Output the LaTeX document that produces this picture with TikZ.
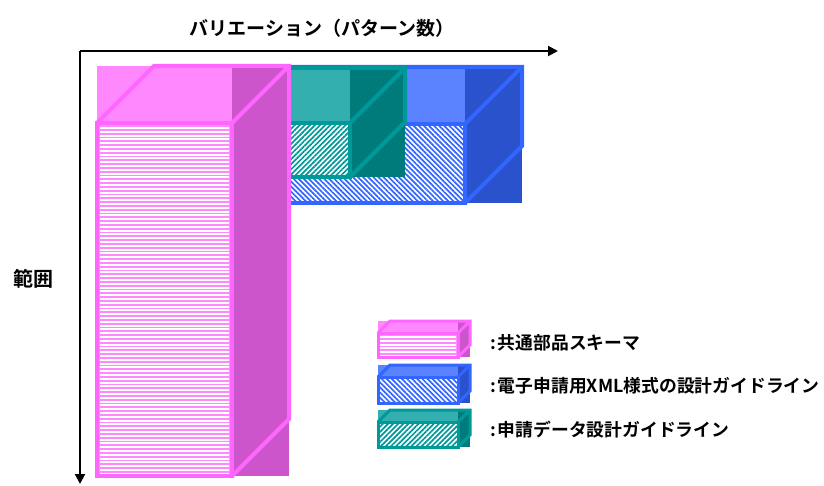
\documentclass[tikz,border=0pt]{standalone}
\usepackage{fontspec}
\setmainfont{Noto Sans CJK JP}[BoldFont={Noto Sans CJK JP Bold}]
\usetikzlibrary{patterns.meta,arrows.meta}
\definecolor{pkline}{HTML}{FF66FF}
\definecolor{pklight}{HTML}{FF88FF}
\definecolor{pkdark}{HTML}{CC55CC}
\definecolor{tlline}{HTML}{009999}
\definecolor{tllight}{HTML}{33AFAF}
\definecolor{tldark}{HTML}{007B7B}
\definecolor{blline}{HTML}{3366FF}
\definecolor{bllight}{HTML}{5B82FF}
\definecolor{bldark}{HTML}{2A52CC}
\tikzset{
  pkfront/.style={fill=pklight},
  blfront/.style={fill=white,postaction={pattern={Lines[angle=-45,distance=3.6pt,line width=1.7pt]},pattern color=blline}},
  tlfront/.style={fill=white,postaction={pattern={Lines[angle=45,distance=3.6pt,line width=1.7pt]},pattern color=tlline}},
  pkstripe/.style={white,line width=1.9pt},
  axis/.style={line width=2pt,-{Triangle[length=10pt,width=10pt]}},
  lbl/.style={font=\bfseries\fontsize{19}{21}\selectfont,inner sep=0pt},
  leg/.style={font=\bfseries\fontsize{17.8}{20}\selectfont,inner sep=0pt,anchor=west},
}
\newcommand{\cubebox}[7]{%
  \fill[#1light] (#2,{#3-#6}) rectangle (#4,#3);
  \fill[#1dark] (#4,{#3-#6}) rectangle ({#4+#6},#5);
  \path[#1front] (#2,#3) rectangle (#4,#5);
  \draw[#1line,line width=#7] (#2,#3) rectangle (#4,#5);
  \draw[#1line,line width=#7,line join=miter] (#2,#3) -- ({#2+#6},{#3-#6}) -- ({#4+#6},{#3-#6}) -- ({#4+#6},{#5-#6}) -- (#4,#5);
  \draw[#1line,line width=#7] (#4,#3) -- ({#4+#6},{#3-#6});
}
\newcommand{\pkstripes}[5]{%
  \begin{scope}
    \clip ({#1+#5},{#2+#5}) rectangle ({#3-#5},{#4-#5});
    \foreach \yy in {#2,#2.8,...,#4} {
      \draw[pkstripe] (#1,{\yy+3.8}) -- (#3,{\yy+3.8});
    }
  \end{scope}
}
\begin{document}
\begin{tikzpicture}[x=1pt,y=-1pt]
\useasboundingbox (0,0) rectangle (824,486);
\coordinate (O) at (80,51);
\coordinate (X) at (558,51);
\coordinate (Y) at (80,484);
\draw[axis] (O) -- (X);
\draw[axis] (O) -- (Y);
\node[lbl] (title) at (322,28) {バリエーション（パターン数）};
\node[lbl,font=\bfseries\fontsize{20}{22}\selectfont] (range) at (33,279) {範囲};
% main boxes
\cubebox{bl}{235}{124}{465}{203}{57}{4pt}
\cubebox{tl}{235}{123}{350}{177}{55}{4pt}
\cubebox{pk}{97}{123}{232}{476}{57}{4pt}
\begin{scope}
  \clip (100,126) rectangle (229,473);
  \foreach \yy in {128,131.8,...,476} { \draw[pkstripe] (97,\yy) -- (232,\yy); }
\end{scope}
% legend
\cubebox{bl}{378}{377}{458}{403}{12}{3pt}
\cubebox{tl}{378}{422}{458}{447}{12}{3pt}
\cubebox{pk}{378}{333}{458}{357}{12}{3pt}
\begin{scope}
  \clip (380,335) rectangle (456,355);
  \foreach \yy in {337,340.8,...,357} { \draw[pkstripe] (378,\yy) -- (458,\yy); }
\end{scope}
\node[leg] (l1) at (490,343) {:\kern2pt 共通部品スキーマ};
\node[leg] (l2) at (490,386) {:\kern2pt 電子申請用XML様式の設計ガイドライン};
\node[leg] (l3) at (490,430) {:\kern2pt 申請データ設計ガイドライン};
\end{tikzpicture}
\end{document}
